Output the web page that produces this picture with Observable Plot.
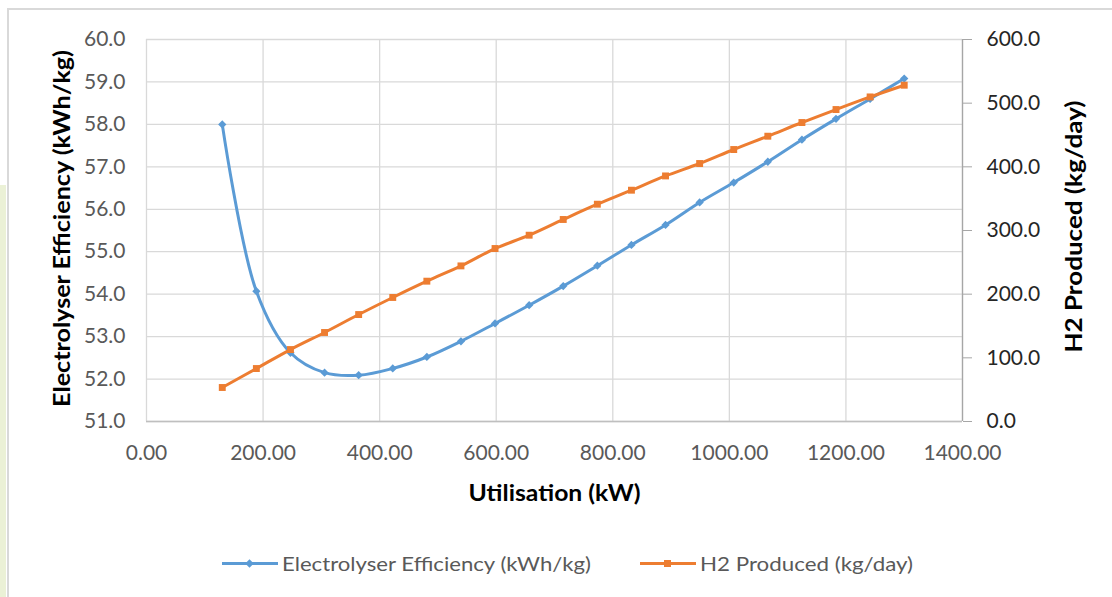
<!DOCTYPE html>
<html>
<head>
<meta charset="utf-8">
<script src="https://cdn.jsdelivr.net/npm/d3@7"></script>
<script src="https://cdn.jsdelivr.net/npm/@observablehq/plot@0.6"></script>
<style>
  html, body { margin: 0; padding: 0; background: #fff; }
  #wrap { position: relative; width: 1112px; height: 597px; overflow: hidden; background: #fff; }
  #strip { position: absolute; left: 0; top: 185px; width: 6px; height: 412px; background: #ebf1d6; }
  #frame { position: absolute; left: 7px; top: 8px; width: 1120px; height: 600px; border-top: 2px solid #d9d9d9; border-left: 2px solid #d9d9d9; }
  #chart { position: absolute; left: 0; top: 0; }
  #legend { position: absolute; top: 550px; left: 0; width: 1112px; height: 26px; font-family: Lato, "Open Sans", sans-serif; font-size: 20px; color: #595959; }
  .item { position: absolute; top: 0; display: flex; align-items: center; height: 26px; white-space: nowrap; }
  .item span { display: inline-block; transform-origin: left center; }
</style>
</head>
<body>
<div id="wrap">
  <div id="strip"></div>
  <div id="frame"></div>
  <div id="chart"></div>
  <div id="legend"></div>
</div>
<script>
// Utilisation (kW)
const utilisation = [130, 188.5, 247, 305.5, 364, 422.5, 481, 539.5, 598, 656.5, 715, 773.5, 832, 890.5, 949, 1007.5, 1066, 1124.5, 1183, 1241.5, 1300];
// Electrolyser Efficiency (kWh/kg)
const efficiency = [58.0, 54.07, 52.62, 52.15, 52.09, 52.25, 52.52, 52.89, 53.31, 53.74, 54.19, 54.67, 55.16, 55.63, 56.16, 56.63, 57.12, 57.64, 58.13, 58.6, 59.08];
// H2 Produced (kg/day)
const h2 = [53.4, 83.2, 113, 139.8, 168, 194.8, 220.4, 244.4, 271.7, 292.6, 317.3, 341.3, 363.3, 385.7, 405.2, 427.2, 448.1, 469.6, 490, 509.8, 528.2];

const xTicks = [0, 200, 400, 600, 800, 1000, 1200, 1400];
const yLeftTicks = [51, 52, 53, 54, 55, 56, 57, 58, 59, 60];
const yRightTicks = [0, 100, 200, 300, 400, 500, 600];

const xTitle = "Utilisation (kW)";
const seriesNames = ["Electrolyser Efficiency (kWh/kg)", "H2 Produced (kg/day)"];
const colors = ["#5b9bd5", "#ed7d31"];

// map right axis onto left scale
const leftMin = 51, leftMax = 60, rightMin = 0, rightMax = 600;
const toLeft = v => leftMin + (v - rightMin) * (leftMax - leftMin) / (rightMax - rightMin);
const toRight = v => rightMin + (v - leftMin) * (rightMax - rightMin) / (leftMax - leftMin);

const effData = utilisation.map((x, i) => ({x, y: efficiency[i]}));
const h2Data = utilisation.map((x, i) => ({x, y: toLeft(h2[i])}));

const plot = Plot.plot({
  width: 1112,
  height: 530,
  marginLeft: 146,
  marginRight: 150,
  marginTop: 39,
  marginBottom: 109,
  style: {fontFamily: "Lato, 'Open Sans', sans-serif", fontSize: "21px", background: "transparent", overflow: "visible"},
  x: {domain: [0, 1400]},
  y: {domain: [leftMin, leftMax]},
  marks: [
    Plot.gridX(xTicks, {stroke: "#d9d9d9", strokeOpacity: 1, strokeWidth: 1.3}),
    Plot.gridY(yLeftTicks, {stroke: "#d9d9d9", strokeOpacity: 1, strokeWidth: 1.3}),
    Plot.ruleY([leftMin], {stroke: "#bfbfbf", strokeWidth: 1.3}),
    Plot.ruleX([1400], {stroke: "#a6a6a6", strokeWidth: 1.3}),
    Plot.axisX(xTicks, {anchor: "bottom", tickSize: 0, tickPadding: 24, tickFormat: d => d.toFixed(2), fill: "#595959", label: null}),
    Plot.axisY(yLeftTicks, {anchor: "left", tickSize: 0, tickPadding: 21, tickFormat: d => d.toFixed(1), fill: "#595959", label: null}),
    Plot.axisY(yRightTicks.map(toLeft), {anchor: "right", tickSize: 9, tickPadding: 15, stroke: "#a6a6a6", fill: "#262626", tickFormat: d => toRight(d).toFixed(1), label: null}),
    Plot.line(effData, {x: "x", y: "y", stroke: colors[0], strokeWidth: 3, curve: "catmull-rom"}),
    Plot.dot(effData, {x: "x", y: "y", symbol: "square", r: 3.3, rotate: 45, fill: colors[0], stroke: null}),
    Plot.line(h2Data, {x: "x", y: "y", stroke: colors[1], strokeWidth: 3, curve: "catmull-rom"}),
    Plot.dot(h2Data, {x: "x", y: "y", symbol: "square", r: 3.9, fill: colors[1], stroke: null}),
    Plot.text([xTitle], {frameAnchor: "bottom", textAnchor: "middle", dy: 72, lineAnchor: "middle", fontWeight: "bold", fontSize: 22, fill: "#000", className: "t-x"}),
    Plot.text([seriesNames[0]], {frameAnchor: "left", textAnchor: "middle", dx: -84, dy: -2, rotate: -90, lineAnchor: "middle", fontWeight: "bold", fontSize: 22, fill: "#000", className: "t-l"}),
    Plot.text([seriesNames[1]], {frameAnchor: "right", textAnchor: "middle", dx: 112, dy: -4, rotate: -90, lineAnchor: "middle", fontWeight: "bold", fontSize: 22, fill: "#000", className: "t-r"})
  ]
});
document.getElementById("chart").appendChild(plot);

// match title lengths to reference
const titleLen = {[xTitle]: 172, [seriesNames[0]]: 357, [seriesNames[1]]: 252};
plot.querySelectorAll("text").forEach(t => {
  const L = titleLen[t.textContent];
  if (L) { t.setAttribute("textLength", L); t.setAttribute("lengthAdjust", "spacingAndGlyphs"); }
});

// legend
const legend = document.getElementById("legend");
const legendX = [222, 640];
seriesNames.forEach((name, i) => {
  const item = document.createElement("div");
  item.className = "item";
  item.style.left = legendX[i] + "px";
  const marker = i === 0
    ? `<rect x="24.5" y="9.5" width="6" height="6" transform="rotate(45 27.5 12.5)" fill="${colors[i]}"/>`
    : `<rect x="24" y="9" width="7" height="7" fill="${colors[i]}"/>`;
  item.innerHTML = `<svg width="56" height="25" style="margin-right:4px"><line x1="0" x2="56" y1="12.5" y2="12.5" stroke="${colors[i]}" stroke-width="3"/>${marker}</svg><span>${name}</span>`;
  legend.appendChild(item);
});
const targetW = [309, 213];
legend.querySelectorAll(".item span").forEach((s, i) => {
  const w = s.getBoundingClientRect().width;
  if (w > 0) s.style.transform = `scaleX(${targetW[i] / w})`;
});
</script>
</body>
</html>
